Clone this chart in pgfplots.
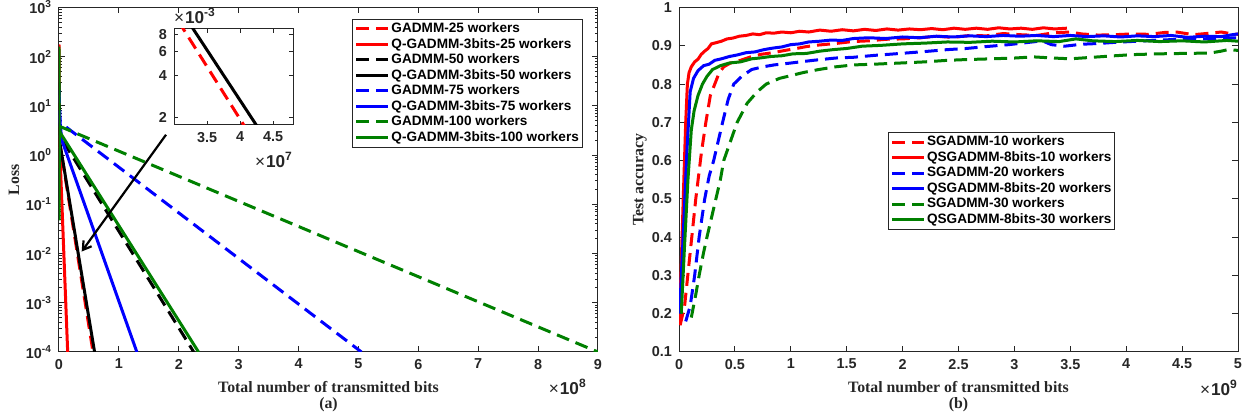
\documentclass[border=0pt]{standalone}
\usepackage{fontspec}
\setmainfont{Liberation Serif}
\setsansfont{Liberation Sans}
\usepackage{pgfplots}
\usepackage{pgfplotstable}
\pgfplotsset{compat=1.18}
\usetikzlibrary{arrows.meta}

\definecolor{mgreen}{rgb}{0,0.5,0}
\definecolor{axgray}{gray}{0.15}

\newcommand{\tkfont}{\fontsize{7.2}{8}\selectfont\sffamily\bfseries}
\newcommand{\mulfont}{\fontsize{8.6}{9}\selectfont\sffamily\bfseries}
\newcommand{\lbfont}{\fontsize{7.9}{9}\selectfont\rmfamily\bfseries}
\newcommand{\lgfont}{\fontsize{6.8}{7.5}\selectfont\sffamily\bfseries}
\newcommand{\mul}[1]{{\mdseries ×\kern0.5pt}10\textsuperscript{#1}}

\pgfplotsset{
  mstyle/.style={
    scale only axis, clip mode=individual,
    axis line style={axgray, line width=0.5pt},
    tick style={axgray, line width=0.5pt},
    tick align=inside, major tick length=2.8pt, minor tick length=1.6pt,
    ticklabel style={font=\tkfont, text=axgray},
    label style={font=\lbfont, text=axgray},
    legend cell align=left,
    legend image code/.code={\draw[##1] (0pt,0pt) -- (16pt,0pt);},
    legend style={font=\lgfont, draw=axgray, line width=0.5pt, fill=white,
      inner sep=1pt, row sep=0pt,
      nodes={inner sep=0.75pt, text height=5pt, text depth=1.25pt}},
    every axis plot/.append style={line width=1.5pt},
  },
  dsh/.style={dash pattern=on 6.5pt off 3.5pt},
}

% (a) loss, x in units of 1e8 bits
\pgfplotstableread{
x y
0 2.21
0.568 1e-4
}\gaTwentyFive
\pgfplotstableread{
x y
0 178
0.004 2.5
0.145 1e-4
}\qgTwentyFive
\pgfplotstableread{
x y
0 30
0.01 2.5
2.25 1e-4
}\gaFifty
\pgfplotstableread{
x y
0 2.26
0.594 1e-4
}\qgFifty
\pgfplotstableread{
x y
0 21
0.02 4.6
5.05 1e-4
}\gaSeventyFive
\pgfplotstableread{
x y
0 8
0.045 2.06
1.30 1e-4
}\qgSeventyFive
\pgfplotstableread{
x y
0 3.9
9 1e-4
}\gaHundred
\pgfplotstableread{
x y
0 160
0.002 0.047
0.006 4
0.02 2.86
2.33 1e-4
}\qgHundred

% (b) accuracy, x in units of 1e9 bits
\pgfplotstableread{
x y
0.01 0.17
0.05 0.22
0.10 0.36
0.15 0.50
0.20 0.62
0.24 0.70
0.28 0.77
0.32 0.80
0.36 0.83
0.40 0.845
0.46 0.855
0.55 0.862
0.65 0.872
0.74 0.878
0.84 0.882
0.95 0.888
1.05 0.893
1.14 0.898
1.25 0.902
1.40 0.906
1.55 0.911
1.70 0.913
1.85 0.917
2.00 0.918
2.16 0.921
2.30 0.925
2.45 0.922
2.60 0.927
2.75 0.926
2.90 0.932
3.05 0.929
3.20 0.927
3.35 0.934
3.50 0.936
3.60 0.931
3.75 0.928
3.90 0.929
4.05 0.931
4.20 0.930
4.35 0.935
4.45 0.936
4.60 0.929
4.75 0.933
4.85 0.936
4.95 0.931
5.00 0.930
}\sgTen
\pgfplotstableread{
x y
0.003 0.17
0.02 0.33
0.04 0.52
0.06 0.70
0.075 0.80
0.09 0.83
0.11 0.845
0.14 0.858
0.17 0.865
0.20 0.878
0.23 0.886
0.26 0.893
0.29 0.905
0.33 0.908
0.38 0.912
0.43 0.918
0.48 0.920
0.54 0.925
0.60 0.927
0.66 0.931
0.72 0.929
0.78 0.934
0.85 0.933
0.92 0.936
1.00 0.934
1.08 0.938
1.16 0.936
1.26 0.941
1.36 0.938
1.46 0.942
1.56 0.939
1.66 0.943
1.76 0.940
1.86 0.944
1.96 0.941
2.06 0.944
2.16 0.942
2.26 0.945
2.36 0.942
2.46 0.946
2.56 0.943
2.66 0.946
2.76 0.943
2.86 0.947
2.96 0.944
3.06 0.946
3.16 0.943
3.26 0.947
3.36 0.944
3.47 0.946
}\qsTen
\pgfplotstableread{
x y
0.06 0.18
0.10 0.22
0.14 0.30
0.18 0.40
0.23 0.50
0.27 0.56
0.31 0.60
0.35 0.65
0.39 0.70
0.44 0.76
0.49 0.80
0.56 0.82
0.65 0.838
0.75 0.845
0.85 0.850
1.00 0.855
1.20 0.862
1.40 0.868
1.56 0.870
1.75 0.875
1.98 0.880
2.20 0.885
2.40 0.890
2.57 0.893
2.75 0.898
2.95 0.903
3.10 0.908
3.25 0.913
3.33 0.903
3.45 0.899
3.60 0.904
3.75 0.906
3.90 0.909
4.10 0.912
4.30 0.915
4.50 0.917
4.70 0.918
4.90 0.920
5.00 0.921
}\sgTwenty
\pgfplotstableread{
x y
0.005 0.20
0.04 0.42
0.07 0.62
0.10 0.78
0.13 0.815
0.17 0.835
0.22 0.848
0.27 0.852
0.32 0.862
0.38 0.866
0.45 0.872
0.52 0.876
0.60 0.882
0.68 0.884
0.76 0.890
0.84 0.894
0.92 0.897
1.00 0.903
1.08 0.905
1.16 0.910
1.26 0.912
1.36 0.915
1.46 0.914
1.56 0.919
1.70 0.921
1.85 0.919
2.00 0.923
2.15 0.921
2.30 0.925
2.45 0.923
2.60 0.926
2.75 0.924
2.90 0.927
3.05 0.925
3.20 0.927
3.35 0.924
3.50 0.927
3.65 0.924
3.80 0.926
3.95 0.923
4.10 0.926
4.25 0.924
4.40 0.927
4.55 0.922
4.70 0.925
4.85 0.924
4.95 0.929
5.00 0.931
}\qsTwenty
\pgfplotstableread{
x y
0.11 0.19
0.15 0.25
0.18 0.30
0.22 0.36
0.25 0.40
0.29 0.45
0.33 0.50
0.37 0.55
0.40 0.60
0.46 0.65
0.52 0.70
0.61 0.75
0.70 0.78
0.78 0.80
0.90 0.815
1.00 0.822
1.11 0.830
1.25 0.838
1.40 0.845
1.56 0.850
1.75 0.852
1.98 0.855
2.20 0.858
2.40 0.862
2.57 0.864
2.80 0.866
3.00 0.868
3.17 0.871
3.35 0.868
3.50 0.866
3.70 0.870
3.90 0.874
4.06 0.877
4.30 0.879
4.50 0.880
4.75 0.881
4.85 0.886
4.91 0.890
5.00 0.888
}\sgThirty
\pgfplotstableread{
x y
0.02 0.20
0.05 0.38
0.08 0.55
0.11 0.68
0.135 0.73
0.17 0.77
0.21 0.80
0.25 0.82
0.30 0.838
0.37 0.848
0.45 0.855
0.55 0.858
0.65 0.866
0.72 0.868
0.82 0.872
0.92 0.874
1.02 0.879
1.14 0.880
1.26 0.886
1.38 0.890
1.50 0.893
1.64 0.899
1.80 0.901
2.00 0.905
2.20 0.907
2.40 0.910
2.60 0.909
2.80 0.912
3.00 0.910
3.20 0.913
3.40 0.911
3.55 0.918
3.70 0.913
3.90 0.911
4.10 0.914
4.30 0.911
4.50 0.913
4.70 0.910
4.90 0.914
5.00 0.912
}\qsThirty

\begin{document}
\begin{tikzpicture}
\useasboundingbox (0,0) rectangle (624pt,208.5pt);

% ---------------- (a) ----------------
\begin{axis}[mstyle, at={(29.5pt,32.5pt)}, anchor=south west,
  width=269.5pt, height=172.25pt,
  xmin=0, xmax=9, ymode=log, ymin=1e-4, ymax=1e3,
  xtick={0,1,2,3,4,5,6,7,8,9}, xticklabels={0,1,2,3,4,5,6,7,8,9},
  ytick={1e-4,1e-3,1e-2,1e-1,1,10,100,1000},
  yticklabels={10\textsuperscript{-4},10\textsuperscript{-3},10\textsuperscript{-2},10\textsuperscript{-1},10\textsuperscript{0},10\textsuperscript{1},10\textsuperscript{2},10\textsuperscript{3}},
  xlabel={Total number of transmitted bits}, ylabel={Loss},
  xlabel style={at={(axis description cs:0.5,-0.1004)}, anchor=center},
  ylabel style={at={(axis description cs:-0.0835,0.5)}, anchor=center},
  legend style={at={(0.972,0.968)}, anchor=north east},
]
\addplot[red, dsh] table {\gaTwentyFive};
\addlegendentry{GADMM-25 workers}
\addplot[red] table {\qgTwentyFive};
\addlegendentry{Q-GADMM-3bits-25 workers}
\addplot[black, dsh] table {\gaFifty};
\addlegendentry{GADMM-50 workers}
\addplot[black] table {\qgFifty};
\addlegendentry{Q-GADMM-3bits-50 workers}
\addplot[blue, dsh] table {\gaSeventyFive};
\addlegendentry{GADMM-75 workers}
\addplot[blue] table {\qgSeventyFive};
\addlegendentry{Q-GADMM-3bits-75 workers}
\addplot[mgreen, dsh] table {\gaHundred};
\addlegendentry{GADMM-100 workers}
\addplot[mgreen] table {\qgHundred};
\addlegendentry{Q-GADMM-3bits-100 workers}
\draw[black, line width=1.1pt, -{Straight Barb[length=4pt,width=5pt]}]
  (axis cs:1.787,2.6) -- (axis cs:0.379,0.011);
\node[font=\mulfont, text=axgray] at (axis description cs:0.944,-0.101) {\mul{8}};
\node[font=\lbfont, text=axgray] at (axis description cs:0.5,-0.1538) {(a)};
\end{axis}

% inset
\begin{axis}[mstyle, at={(87pt,146pt)}, anchor=south west,
  width=59.5pt, height=48pt,
  axis background/.style={fill=white},
  xmin=3.0, xmax=4.8, ymode=log, ymin=1.75, ymax=8.75,
  xtick={3.5,4,4.5}, xticklabels={3.5,4,4.5},
  ytick={2,4,6,8}, yticklabels={2,4,6,8}, yminorticks=false,
  major tick length=2pt,
]
\addplot[red, dsh] table[x expr=\thisrow{x}*10, y expr=\thisrow{y}*1000] {\gaTwentyFive};
\addplot[black] table[x expr=\thisrow{x}*10, y expr=\thisrow{y}*1000] {\qgFifty};
\node[font=\mulfont, text=axgray, anchor=south] at (axis description cs:0.176,0.98) {\mul{-3}};
\node[font=\mulfont, text=axgray] at (axis description cs:0.84,-0.365) {\mul{7}};
\end{axis}

% ---------------- (b) ----------------
\begin{axis}[mstyle, at={(339.5pt,32.5pt)}, anchor=south west,
  width=279.5pt, height=172.25pt,
  xmin=0, xmax=5, ymin=0.1, ymax=1,
  xtick={0,0.5,1,1.5,2,2.5,3,3.5,4,4.5,5},
  xticklabels={0,0.5,1,1.5,2,2.5,3,3.5,4,4.5,5},
  ytick={0.1,0.2,0.3,0.4,0.5,0.6,0.7,0.8,0.9,1},
  yticklabels={0.1,0.2,0.3,0.4,0.5,0.6,0.7,0.8,0.9,1},
  xlabel={Total number of transmitted bits}, ylabel={Test accuracy},
  xlabel style={at={(axis description cs:0.5,-0.1004)}, anchor=center},
  ylabel style={at={(axis description cs:-0.0698,0.5)}, anchor=center},
  legend style={at={(0.374,0.639)}, anchor=north west},
]
\addplot[red, dsh] table {\sgTen};
\addlegendentry{SGADMM-10 workers}
\addplot[red] table {\qsTen};
\addlegendentry{QSGADMM-8bits-10 workers}
\addplot[blue, dsh] table {\sgTwenty};
\addlegendentry{SGADMM-20 workers}
\addplot[blue] table {\qsTwenty};
\addlegendentry{QSGADMM-8bits-20 workers}
\addplot[mgreen, dsh] table {\sgThirty};
\addlegendentry{SGADMM-30 workers}
\addplot[mgreen] table {\qsThirty};
\addlegendentry{QSGADMM-8bits-30 workers}
\node[font=\mulfont, text=axgray] at (axis description cs:0.966,-0.104) {\mul{9}};
\node[font=\lbfont, text=axgray] at (axis description cs:0.5,-0.1538) {(b)};
\end{axis}
\end{tikzpicture}
\end{document}
